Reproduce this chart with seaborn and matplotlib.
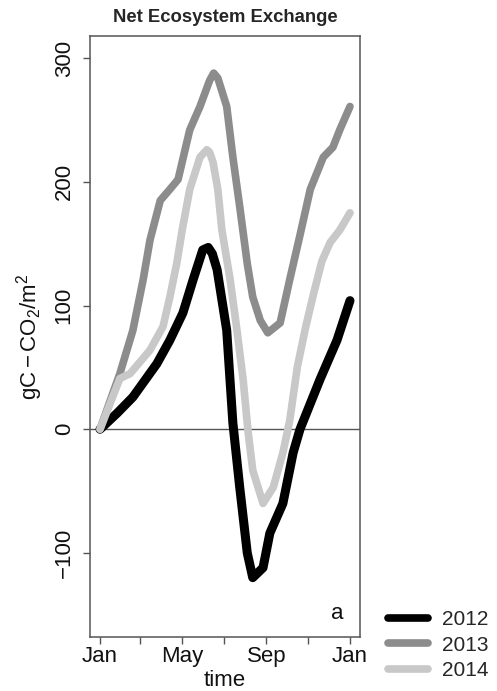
import numpy as np
import pandas as pd
import matplotlib
matplotlib.use("Agg")
import matplotlib.pyplot as plt
import seaborn as sns

# ---------- Data (day of year, cumulative NEE) ----------
days_2012 = [0, 4, 25, 48, 83, 102, 121, 136, 150, 158, 164, 171, 185, 194, 204, 215, 223, 238, 248, 267, 282, 292, 321, 346, 365]
vals_2012 = [0, 2, 13, 26, 53, 72, 94, 121, 145, 147, 142, 129, 80, 5, -47, -100, -120, -112, -84, -60, -19, 0, 40, 72, 104]

days_2013 = [0, 29, 48, 63, 73, 88, 102, 114, 131, 146, 160, 166, 172, 185, 194, 204, 215, 223, 234, 245, 263, 277, 292, 307, 326, 340, 350, 365]
vals_2013 = [0, 45, 80, 121, 153, 185, 194, 202, 242, 261, 282, 288, 284, 261, 220, 180, 134, 107, 88, 78, 86, 121, 157, 194, 220, 228, 242, 261]

days_2014 = [0, 29, 44, 73, 92, 102, 112, 120, 131, 146, 156, 160, 165, 172, 178, 190, 200, 209, 216, 223, 238, 253, 267, 277, 288, 300, 312, 324, 336, 350, 365]
vals_2014 = [0, 41, 45, 64, 83, 107, 134, 161, 194, 220, 226, 224, 216, 194, 161, 121, 80, 40, -1, -33, -60, -47, -19, 7, 50, 82, 110, 136, 151, 161, 175]

years = ["2012", "2013", "2014"]
colors = {"2012": "#000000", "2013": "#8c8c8c", "2014": "#c8c8c8"}
widths = {"2012": 6.5, "2013": 5.5, "2014": 5.5}

tick_days = [0, 59, 120, 181, 243, 304, 365]
tick_labels = ["Jan", "", "May", "", "Sep", "", "Jan"]

df = pd.concat([
    pd.DataFrame({"day": days_2012, "nee": vals_2012, "year": "2012"}),
    pd.DataFrame({"day": days_2013, "nee": vals_2013, "year": "2013"}),
    pd.DataFrame({"day": days_2014, "nee": vals_2014, "year": "2014"}),
], ignore_index=True)

# ---------- Style ----------
sns.set_style("ticks")
plt.rcParams["font.family"] = ["Liberation Sans", "DejaVu Sans"]
plt.rcParams["mathtext.fontset"] = "custom"
plt.rcParams["mathtext.rm"] = "Liberation Sans"
plt.rcParams["mathtext.it"] = "Liberation Sans:italic"

fig = plt.figure(figsize=(4.97, 6.91), dpi=100)
ax = fig.add_axes([90 / 497, 1 - 637 / 691, 270 / 497, 601 / 691])

ax.axhline(0, color="#555555", lw=1.0, zorder=1)

sns.lineplot(
    data=df, x="day", y="nee", hue="year", hue_order=years, palette=colors,
    sort=False, estimator=None, lw=5.5, ax=ax,
    solid_capstyle="round", solid_joinstyle="round", zorder=3,
)
for line, yr in zip(ax.lines[1:], years):
    line.set_linewidth(widths[yr])

ax.set_xlim(-14.6, 379.6)
ax.set_ylim(-168, 318)
ax.set_xticks(tick_days)
ax.set_xticklabels(tick_labels)
ax.set_yticks([-100, 0, 100, 200, 300])
ax.set_yticklabels(["\u2212100", "0", "100", "200", "300"], rotation=90, va="center")

for s in ax.spines.values():
    s.set_color("#555555")
    s.set_linewidth(1.1)
ax.tick_params(axis="both", colors="#555555", labelcolor="#111111",
               labelsize=16, length=5, width=1.0)
ax.tick_params(axis="x", pad=1.5)
ax.tick_params(axis="y", pad=6)

ax.set_xlabel("time", fontsize=16, color="#111111", labelpad=2)
ax.set_ylabel(r"$\mathrm{gC-CO_2/m^2}$", fontsize=16, color="#111111", labelpad=6)
ax.set_title("Net Ecosystem Exchange", fontsize=13.3, fontweight="bold", pad=10)

ax.text(0.94, 0.022, "a", transform=ax.transAxes, fontsize=16,
        ha="right", va="bottom", color="#111111")

handles, labels = ax.get_legend_handles_labels()
ax.legend_.remove()
for h in handles:
    h.set_linewidth(5.5)
    h.set_solid_capstyle("round")
fig.legend(handles, labels, loc="upper left", bbox_to_anchor=(388 / 497, 1 - 610 / 691),
           frameon=False, fontsize=15, handlelength=1.9, handletextpad=0.7,
           labelspacing=0.32, borderaxespad=0, borderpad=0)

fig.savefig("out.png", dpi=100)
